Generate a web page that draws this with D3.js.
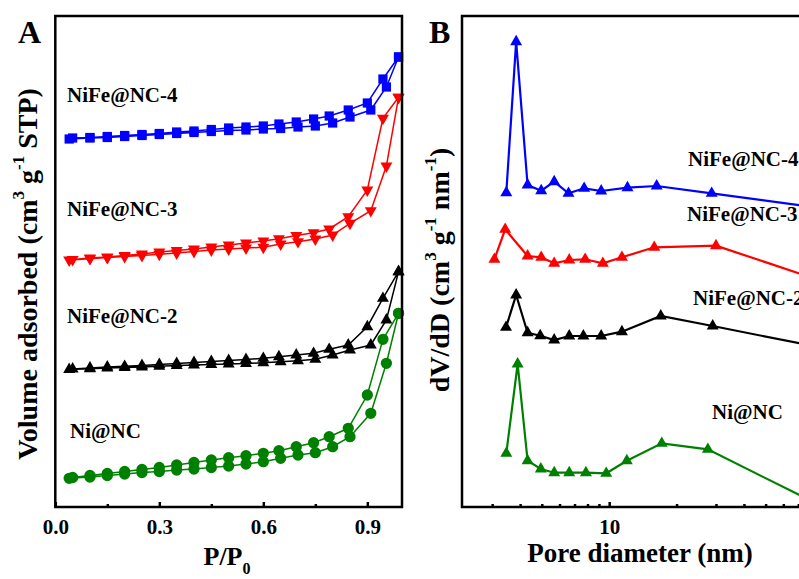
<!DOCTYPE html>
<html>
<head>
<meta charset="utf-8">
<script src="https://cdn.jsdelivr.net/npm/d3@7"></script>
<style>
  body { margin: 0; background: #fff; }
  svg { display: block; }
  text { font-family: "Liberation Serif", "Times New Roman", serif; font-weight: bold; fill: #000; }
</style>
</head>
<body>
<svg width="799" height="579"></svg>
<script>
// ---- panel A: N2 isotherms (y in arbitrary offset units) ----
var adsP = [0.04, 0.1, 0.15, 0.2, 0.25, 0.3, 0.35, 0.4, 0.45, 0.5, 0.55, 0.6, 0.65, 0.7, 0.75, 0.8, 0.85, 0.91, 0.955, 0.99];
var desP = [0.99, 0.945, 0.9, 0.845, 0.79, 0.745, 0.695, 0.645, 0.6, 0.55, 0.5, 0.45, 0.4, 0.35, 0.3, 0.25, 0.2, 0.15, 0.1, 0.05];

var nc4Ads = [368, 369, 369.5, 370.5, 371.5, 372.5, 373.5, 374.5, 375.5, 376.5, 377, 378, 378.5, 380, 381, 384, 390, 397, 420, 450];
var nc4Des = [450, 428, 404, 397, 391, 388, 385, 383, 381, 380, 379, 377.5, 376, 375, 373.5, 372.5, 371.5, 370.5, 369.5, 369];
var nc3Ads = [247, 248.3, 249.5, 250.5, 251.5, 252.7, 254, 255.5, 257, 258, 259, 259.7, 263, 265.3, 268, 272, 283.7, 296.3, 341, 409.7];
var nc3Des = [409.7, 388.7, 317, 290.3, 278, 274.3, 271.5, 268.3, 266, 264, 262, 260, 258, 256.5, 255, 253, 251.5, 250, 249, 247.5];
var nc2Ads = [137.5, 138.3, 139, 139.5, 140, 140.7, 141.5, 142, 142.5, 143, 143.5, 144.3, 145.3, 146.3, 147.7, 152, 157, 162, 187, 235.3];
var nc2Des = [235.3, 208.7, 180.3, 162, 157.7, 153.7, 152, 150.3, 148.7, 147.5, 146.5, 145.5, 144.5, 143.5, 142.5, 141.5, 140.7, 140, 139, 138];
var niAds = [28.7, 30, 31.5, 33, 34.5, 35.5, 37, 38, 39.5, 41, 43, 45.3, 48.7, 52, 54.3, 60.3, 70.3, 93.7, 143.7, 193.7];
var niDes = [193.7, 167.7, 112, 78.7, 70.3, 64.3, 60.3, 56.3, 53.7, 51.3, 49.3, 47, 44.5, 42, 39.5, 37.5, 35.5, 33.5, 31.5, 29.5];

var ticksA = [0, 0.3, 0.6, 0.9];
var minorA = [0.15, 0.45, 0.75];

// ---- panel B: pore size distribution (log x, y arbitrary offset units) ----
var nc4D = [3.47, 3.84, 4.32, 4.97, 5.68, 6.58, 7.73, 9.21, 12.07, 16.3, 28.7, 80];
var nc4V = [314.3, 465.3, 322, 316.3, 325.3, 313.7, 318.7, 316, 319.3, 321, 313.7, 300.3];
var nc3D = [3.07, 3.43, 4.32, 4.97, 5.68, 6.63, 7.81, 9.37, 11.4, 15.9, 30.0, 80];
var nc3V = [247.7, 277.7, 251, 249.7, 243.7, 247, 247.7, 243.7, 249.7, 259.7, 261.3, 229.6];
var nc2D = [3.46, 3.84, 4.32, 4.92, 5.68, 6.63, 7.67, 9.21, 11.4, 17.0, 29.0, 80];
var nc2V = [179.7, 212, 174.3, 171.3, 167, 171, 171, 171, 175.3, 191, 181, 161.3];
var niD = [3.47, 3.90, 4.32, 4.95, 5.68, 6.63, 7.87, 9.70, 11.99, 17.18, 27.6, 80];
var niV = [53.7, 143, 46.3, 38, 34.3, 34.3, 34.3, 33.7, 46.3, 63.7, 57.7, 6];

var ticksB = [10];
var minorB = [3, 4, 5, 6, 7, 8, 9, 20, 30, 40, 50, 60, 70, 80, 90];

var svg = d3.select("svg");
var plotTop = 16, plotBottom = 507;

// ================= panel A =================
var xA = d3.scaleLinear().domain([0, 1.0]).range([55.3, 402]);
var yA = d3.scaleLinear().domain([0, 491]).range([plotBottom, plotTop]);

var isoSeries = [
  {name: "NiFe@NC-4", color: "#0000ff", sym: d3.symbolSquare, size: 85, rot: 0, ads: nc4Ads, des: nc4Des, lx: 67, ly: 102},
  {name: "NiFe@NC-3", color: "#ff0000", sym: d3.symbolTriangle, size: 62, rot: 180, ads: nc3Ads, des: nc3Des, lx: 67, ly: 216},
  {name: "NiFe@NC-2", color: "#000000", sym: d3.symbolTriangle, size: 62, rot: 0, ads: nc2Ads, des: nc2Des, lx: 67, ly: 323},
  {name: "Ni@NC", color: "#008000", sym: d3.symbolCircle, size: 100, rot: 0, ads: niAds, des: niDes, lx: 70, ly: 438}
];

var gA = svg.append("g");
var lineA = d3.line().x(function(d) { return xA(d[0]); }).y(function(d) { return yA(d[1]); });

isoSeries.forEach(function(s) {
  var pts = adsP.map(function(p, i) { return [p, s.ads[i]]; })
    .concat(desP.map(function(p, i) { return [p, s.des[i]]; }));
  gA.append("path")
    .attr("d", lineA(pts))
    .attr("fill", "none")
    .attr("stroke", s.color)
    .attr("stroke-width", 1.5);
  gA.selectAll(null)
    .data(pts)
    .enter().append("path")
      .attr("d", d3.symbol().type(s.sym).size(s.size))
      .attr("transform", function(d) { return "translate(" + xA(d[0]) + "," + yA(d[1]) + ") rotate(" + s.rot + ")"; })
      .attr("fill", s.color);
  gA.append("text")
    .attr("x", s.lx)
    .attr("y", s.ly)
    .attr("font-size", 21)
    .text(s.name);
});

// bottom axis A
var axA = gA.append("g")
  .attr("transform", "translate(0," + plotBottom + ")")
  .call(d3.axisBottom(xA).tickValues(ticksA).tickFormat(d3.format(".1f")).tickSizeInner(-5).tickSizeOuter(0).tickPadding(7));
axA.select(".domain").remove();
axA.selectAll(".tick line").attr("stroke-width", 2.5);
axA.selectAll(".tick text").attr("font-size", 21).attr("font-family", null).attr("dy", "0.95em");
gA.append("g")
  .attr("transform", "translate(0," + plotBottom + ")")
  .call(d3.axisBottom(xA).tickValues(minorA).tickFormat("").tickSizeInner(-3).tickSizeOuter(0))
  .call(function(g) { g.select(".domain").remove(); g.selectAll(".tick line").attr("stroke-width", 2.5); });

gA.append("rect")
  .attr("x", 55.3).attr("y", plotTop)
  .attr("width", 402 - 55.3).attr("height", plotBottom - plotTop)
  .attr("fill", "none").attr("stroke", "#000").attr("stroke-width", 2.5);

var tA = gA.append("text")
  .attr("x", 227).attr("y", 565)
  .attr("text-anchor", "middle")
  .attr("font-size", 26);
tA.append("tspan").text("P/P");
tA.append("tspan").attr("font-size", 16).attr("dy", 9).text("0");

var yTitleA = gA.append("text")
  .attr("transform", "translate(37,274) rotate(-90)")
  .attr("text-anchor", "middle")
  .attr("font-size", 28);
yTitleA.append("tspan").text("Volume adsorbed (cm");
yTitleA.append("tspan").attr("font-size", 17).attr("dy", -13).text("3");
yTitleA.append("tspan").attr("dy", 13).text(" g");
yTitleA.append("tspan").attr("font-size", 17).attr("dy", -13).text("-1");
yTitleA.append("tspan").attr("dy", 13).text(" STP)");

gA.append("text").attr("x", 18).attr("y", 43).attr("font-size", 32).text("A");

// ================= panel B =================
var xB = d3.scaleLog().domain([2.2, 100]).range([462, 833]);
var yB = d3.scaleLinear().domain([0, 491]).range([plotBottom, plotTop]);

var psdSeries = [
  {name: "NiFe@NC-4", color: "#0000ff", D: nc4D, V: nc4V, lx: 688, ly: 166},
  {name: "NiFe@NC-3", color: "#ff0000", D: nc3D, V: nc3V, lx: 687, ly: 221},
  {name: "NiFe@NC-2", color: "#000000", D: nc2D, V: nc2V, lx: 693, ly: 305},
  {name: "Ni@NC", color: "#008000", D: niD, V: niV, lx: 712, ly: 419}
];

var gB = svg.append("g");
var lineB = d3.line().x(function(d) { return xB(d[0]); }).y(function(d) { return yB(d[1]); });

psdSeries.forEach(function(s) {
  var pts = s.D.map(function(d, i) { return [d, s.V[i]]; });
  gB.append("path")
    .attr("d", lineB(pts))
    .attr("fill", "none")
    .attr("stroke", s.color)
    .attr("stroke-width", 2.2);
  gB.selectAll(null)
    .data(pts)
    .enter().append("path")
      .attr("d", d3.symbol().type(d3.symbolTriangle).size(62))
      .attr("transform", function(d) { return "translate(" + xB(d[0]) + "," + yB(d[1]) + ")"; })
      .attr("fill", s.color);
  gB.append("text")
    .attr("x", s.lx)
    .attr("y", s.ly)
    .attr("font-size", 21)
    .text(s.name);
});

var axB = gB.append("g")
  .attr("transform", "translate(0," + plotBottom + ")")
  .call(d3.axisBottom(xB).tickValues(ticksB).tickFormat(d3.format("d")).tickSizeInner(-5).tickSizeOuter(0).tickPadding(7));
axB.select(".domain").remove();
axB.selectAll(".tick line").attr("stroke-width", 2.5);
axB.selectAll(".tick text").attr("font-size", 21).attr("font-family", null).attr("dy", "0.95em");
gB.append("g")
  .attr("transform", "translate(0," + plotBottom + ")")
  .call(d3.axisBottom(xB).tickValues(minorB).tickFormat("").tickSizeInner(-3).tickSizeOuter(0))
  .call(function(g) { g.select(".domain").remove(); g.selectAll(".tick line").attr("stroke-width", 2.5); });

gB.append("rect")
  .attr("x", 462).attr("y", plotTop)
  .attr("width", 833 - 462).attr("height", plotBottom - plotTop)
  .attr("fill", "none").attr("stroke", "#000").attr("stroke-width", 2.5);

gB.append("text")
  .attr("x", 640).attr("y", 562)
  .attr("text-anchor", "middle")
  .attr("font-size", 27)
  .text("Pore diameter (nm)");

var yTitleB = gB.append("text")
  .attr("transform", "translate(449,270) rotate(-90)")
  .attr("text-anchor", "middle")
  .attr("font-size", 28);
yTitleB.append("tspan").text("dV/dD (cm");
yTitleB.append("tspan").attr("font-size", 17).attr("dy", -13).text("3");
yTitleB.append("tspan").attr("dy", 13).text(" g");
yTitleB.append("tspan").attr("font-size", 17).attr("dy", -13).text("-1");
yTitleB.append("tspan").attr("dy", 13).text(" nm");
yTitleB.append("tspan").attr("font-size", 17).attr("dy", -13).text("-1");
yTitleB.append("tspan").attr("dy", 13).text(")");

gB.append("text").attr("x", 429).attr("y", 43).attr("font-size", 32).text("B");
</script>
</body>
</html>
